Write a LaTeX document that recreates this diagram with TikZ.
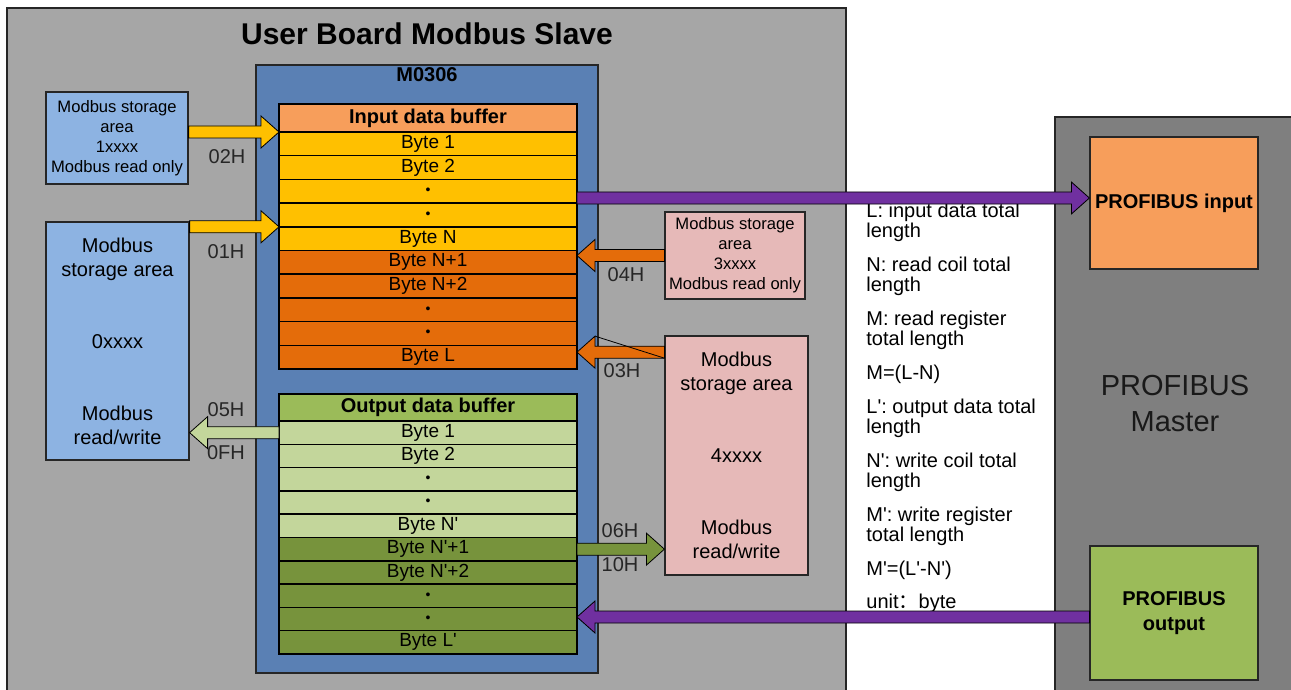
\documentclass[tikz,border=0pt]{standalone}
\usepackage{fontspec}
\setmainfont{Liberation Sans}[Ligatures=TeXOff]
\newfontfamily\cjk{Noto Sans CJK SC}
\usetikzlibrary{calc,positioning}
\definecolor{boardgray}{HTML}{A6A6A6}
\definecolor{mastergray}{HTML}{7F7F7F}
\definecolor{chipblue}{HTML}{5A80B4}
\definecolor{areablue}{HTML}{8DB3E2}
\definecolor{areapink}{HTML}{E6B9B8}
\definecolor{hdrorange}{HTML}{F79E5B}
\definecolor{rowyellow}{HTML}{FFC000}
\definecolor{roworange}{HTML}{E46C0A}
\definecolor{hdrgreen}{HTML}{9BBB59}
\definecolor{rowlgreen}{HTML}{C3D69B}
\definecolor{rowdgreen}{HTML}{77933C}
\definecolor{busviolet}{HTML}{7030A0}
\tikzstyle{frame} = [draw=black!85, line width=0.8pt, inner sep=0pt]
\tikzstyle{cell} = [draw=black, line width=0.75pt, outer sep=0pt, inner sep=0pt,
  minimum width=149pt, minimum height=11.85pt, font=\fontsize{9.5}{10}\selectfont]
\tikzstyle{ocell} = [cell, minimum height=11.65pt]
\tikzstyle{hdr} = [cell, minimum height=14pt, font=\bfseries\fontsize{10}{11}\selectfont]
\tikzstyle{area} = [draw=black!85, line width=0.6pt, align=center, inner sep=0pt]
\tikzstyle{small} = [font=\fontsize{8.3}{10}\selectfont]
\tikzstyle{big} = [font=\fontsize{10}{12}\selectfont]
\tikzstyle{code} = [font=\fontsize{10}{12}\selectfont, text=black!85, inner sep=0pt]
\tikzstyle{blockarrow} = [draw=black, line width=0.4pt]
\newcommand{\dotrow}{{\fontsize{7}{7}\selectfont •}}
% #1 colour, #2 start, #3 tip (horizontal only)
\newcommand{\blockarrow}[3]{%
  \draw[blockarrow, fill=#1] let \p1=(#2), \p2=(#3), \n1={sign(\x2-\x1)} in
    (\x1,\y1+3pt) -- ({\x2-(\n1)*9pt},\y1+3pt) -- ({\x2-(\n1)*9pt},\y1+8pt)
    -- (\x2,\y1) -- ({\x2-(\n1)*9pt},\y1-8pt) -- ({\x2-(\n1)*9pt},\y1-3pt)
    -- (\x1,\y1-3pt) -- cycle;}

\begin{document}
\begin{tikzpicture}[x=0.5pt, y=-0.5pt]
  \clip (0,0) rectangle (1291,690);
  % containers
  \node[frame, fill=boardgray, minimum width=419.5pt, minimum height=351pt] (board) at (426.5,359) {};
  \node[frame, fill=mastergray, minimum width=122.5pt, minimum height=296.5pt] (master) at (1177.5,413.5) {};
  \node[frame, fill=chipblue, minimum width=171pt, minimum height=304pt] (chip) at (427,369) {};
  \node[font=\bfseries\fontsize{15}{18}\selectfont] (title) at (427,34) {User Board Modbus Slave};
  \node[font=\bfseries\fontsize{10}{12}\selectfont] (chipname) at (427,75) {M0306};

  % input data buffer
  \node[hdr, fill=hdrorange] (hdrin) at (428,118) {Input data buffer};
  \node[cell, fill=rowyellow, below=0pt of hdrin] (in1) {Byte 1};
  \node[cell, fill=rowyellow, below=0pt of in1] (in2) {Byte 2};
  \node[cell, fill=rowyellow, below=0pt of in2] (in3) {\dotrow};
  \node[cell, fill=rowyellow, below=0pt of in3] (in4) {\dotrow};
  \node[cell, fill=rowyellow, below=0pt of in4] (in5) {Byte N};
  \node[cell, fill=roworange, below=0pt of in5] (in6) {Byte N+1};
  \node[cell, fill=roworange, below=0pt of in6] (in7) {Byte N+2};
  \node[cell, fill=roworange, below=0pt of in7] (in8) {\dotrow};
  \node[cell, fill=roworange, below=0pt of in8] (in9) {\dotrow};
  \node[cell, fill=roworange, below=0pt of in9] (in10) {Byte L};

  % output data buffer
  \node[hdr, fill=hdrgreen, minimum height=13.5pt] (hdrout) at (428,407.5) {Output data buffer};
  \node[ocell, fill=rowlgreen, below=0pt of hdrout] (out1) {Byte 1};
  \node[ocell, fill=rowlgreen, below=0pt of out1] (out2) {Byte 2};
  \node[ocell, fill=rowlgreen, below=0pt of out2] (out3) {\dotrow};
  \node[ocell, fill=rowlgreen, below=0pt of out3] (out4) {\dotrow};
  \node[ocell, fill=rowlgreen, below=0pt of out4] (out5) {Byte N'};
  \node[ocell, fill=rowdgreen, below=0pt of out5] (out6) {Byte N'+1};
  \node[ocell, fill=rowdgreen, below=0pt of out6] (out7) {Byte N'+2};
  \node[ocell, fill=rowdgreen, below=0pt of out7] (out8) {\dotrow};
  \node[ocell, fill=rowdgreen, below=0pt of out8] (out9) {\dotrow};
  \node[ocell, fill=rowdgreen, below=0pt of out9] (out10) {Byte L'};

  % modbus storage areas
  \node[area, small, fill=areablue, minimum width=71pt, minimum height=46pt] (ms1) at (117,138)
    {Modbus storage\\area\\1xxxx\\Modbus read only};
  \node[area, big, fill=areablue, minimum width=71.5pt, minimum height=119pt] (ms2) at (117.5,341)
    {Modbus\\storage area\\[24pt]0xxxx\\[24pt]Modbus\\read/write};
  \node[area, small, fill=areapink, minimum width=70pt, minimum height=43.5pt] (ms3) at (735,255.5)
    {Modbus storage\\area\\3xxxx\\Modbus read only};
  \node[area, big, fill=areapink, minimum width=71.5pt, minimum height=119.5pt] (ms4) at (736.5,455.5)
    {Modbus\\storage area\\[24pt]4xxxx\\[24pt]Modbus\\read/write};

  % profibus side
  \node[area, fill=hdrorange, minimum width=84pt, minimum height=66pt,
    font=\bfseries\fontsize{10}{12.5}\selectfont] (pin) at (1174,203) {PROFIBUS input};
  \node[area, fill=hdrgreen, minimum width=84pt, minimum height=67pt,
    font=\bfseries\fontsize{10}{12.5}\selectfont] (pout) at (1174,613) {PROFIBUS\\output};
  \node[align=center, text=black!90, font=\fontsize{14.5}{18}\selectfont] (mastername) at (1175,404) {PROFIBUS\\Master};

  % legend
  \node[anchor=north west, align=left, inner sep=0pt, font=\fontsize{10}{10}\selectfont] (notes) at (866,203)
    {L: input data total\\length\\[7pt]N: read coil total\\length\\[7pt]M: read register\\total length\\[7pt]%
     M=(L-N)\\[7pt]L': output data total\\length\\[7pt]N': write coil total\\length\\[7pt]%
     M': write register\\total length\\[7pt]M'=(L'-N')\\[6.5pt]unit{\cjk ：}byte};

  % ports
  \coordinate (pinport) at ($(pin.west)+(0,-5)$);
  \coordinate (poutport) at ($(pout.west)+(0,4)$);
  \coordinate (in10port) at ($(in10.east)+(0,-5)$);

  % transfers
  \blockarrow{rowyellow}{ms1.east |- hdrin.south}{hdrin.south west}
  \blockarrow{rowyellow}{ms2.east |- in5.north}{in5.north west}
  \blockarrow{roworange}{ms3.west}{ms3.west -| in6.east}
  \blockarrow{roworange}{ms4.west |- in10port}{in10port}
  \draw[line width=0.4pt] ($(in10port)+(18,-16)$) -- ($(ms4.west |- in10port)+(0,6)$);
  \blockarrow{rowlgreen}{out1.west}{ms2.east |- out1.west}
  \blockarrow{rowdgreen}{out6.east}{ms4.west |- out6.east}
  \blockarrow{busviolet}{in3.east |- pinport}{pinport}
  \blockarrow{busviolet}{poutport}{poutport -| out9.east}

  % function codes
  \node[code] (fc02) at (227,157) {02H};
  \node[code] (fc01) at (226,252) {01H};
  \node[code] (fc05) at (226,410) {05H};
  \node[code] (fc0F) at (226,453) {0FH};
  \node[code] (fc04) at (626,275) {04H};
  \node[code] (fc03) at (622,371) {03H};
  \node[code] (fc06) at (620,531) {06H};
  \node[code] (fc10) at (620,565) {10H};
\end{tikzpicture}
\end{document}
